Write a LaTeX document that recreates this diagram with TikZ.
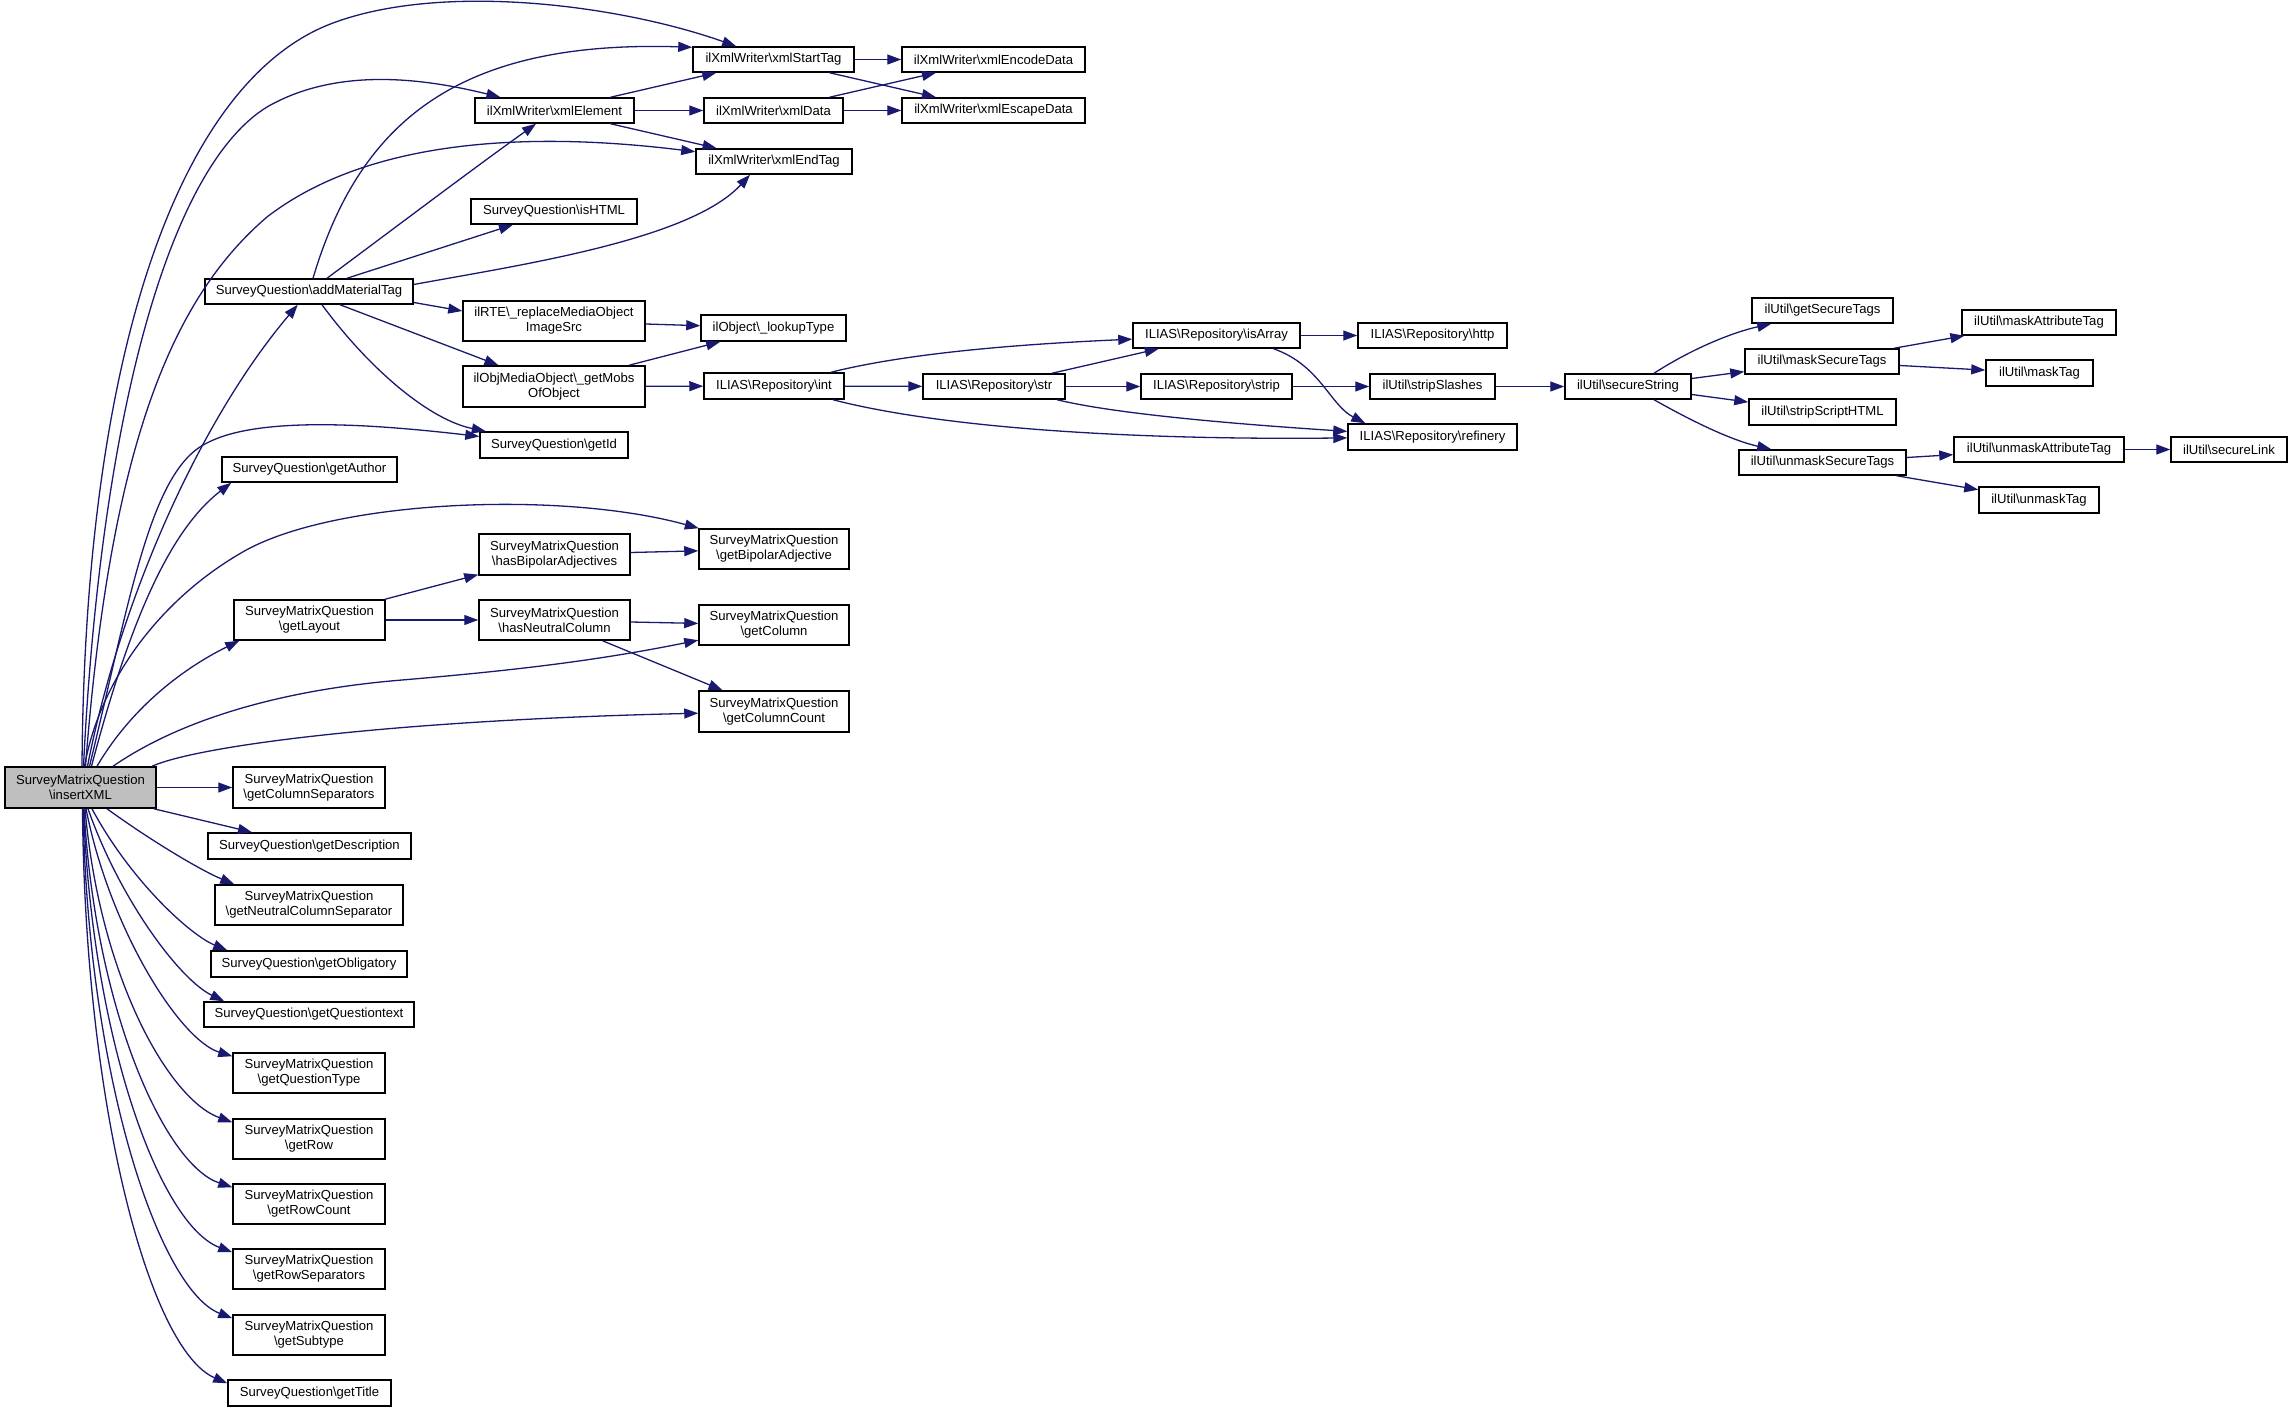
\documentclass[tikz,border=0pt]{standalone}
\usepackage{fontspec}
\setmainfont{Liberation Sans}
\usetikzlibrary{arrows.meta}
\definecolor{edgecol}{HTML}{191970}
\definecolor{insfill}{HTML}{BFBFBF}
\def\BSL{\textbackslash}
\begin{document}
\begin{tikzpicture}[x=1pt,y=-1pt,
  box/.style={draw=black, line width=1.5pt, fill=white, inner sep=0pt, align=center,
    font=\fontsize{13.1}{15}\selectfont, minimum height=25},
  conn/.style={draw=edgecol, line width=1.3pt, -{Triangle[length=14pt,width=10pt]}}]
\fill[white] (0,0) rectangle (2292,1412);
\useasboundingbox (0,0) rectangle (2292,1412);

% nodes
\node[box,minimum width=151,minimum height=41,fill=insfill] (ins) at (80.5,787.5) {SurveyMatrixQuestion\\\BSL insertXML};
\node[box,minimum width=161] (xst) at (773.5,59.5) {ilXmlWriter\BSL xmlStartTag};
\node[box,minimum width=159] (xel) at (554.5,110.5) {ilXmlWriter\BSL xmlElement};
\node[box,minimum width=139] (xda) at (773.5,110.5) {ilXmlWriter\BSL xmlData};
\node[box,minimum width=156] (xen) at (774,161.5) {ilXmlWriter\BSL xmlEndTag};
\node[box,minimum width=183] (xenc) at (993.5,59.5) {ilXmlWriter\BSL xmlEncodeData};
\node[box,minimum width=183] (xesc) at (993.5,110.5) {ilXmlWriter\BSL xmlEscapeData};
\node[box,minimum width=166] (ishtml) at (554,211.5) {SurveyQuestion\BSL isHTML};
\node[box,minimum width=208] (amt) at (309,291.5) {SurveyQuestion\BSL addMaterialTag};
\node[box,minimum width=182,minimum height=40] (rte) at (554,321) {ilRTE\BSL\_replaceMediaObject\\ImageSrc};
\node[box,minimum width=145,minimum height=26] (lut) at (773.5,328) {ilObject\BSL\_lookupType};
\node[box,minimum width=182,minimum height=41] (mobs) at (554,386.5) {ilObjMediaObject\BSL\_getMobs\\OfObject};
\node[box,minimum width=140,minimum height=26] (int) at (774,386) {ILIAS\BSL Repository\BSL int};
\node[box,minimum width=148,minimum height=26] (gid) at (554,445) {SurveyQuestion\BSL getId};
\node[box,minimum width=175] (gau) at (309.5,469.5) {SurveyQuestion\BSL getAuthor};
\node[box,minimum width=150,minimum height=40] (gba) at (774,549) {SurveyMatrixQuestion\\\BSL getBipolarAdjective};
\node[box,minimum width=151,minimum height=41] (hba) at (554.5,554.5) {SurveyMatrixQuestion\\\BSL hasBipolarAdjectives};
\node[box,minimum width=151,minimum height=40] (gla) at (309.5,620) {SurveyMatrixQuestion\\\BSL getLayout};
\node[box,minimum width=151,minimum height=40] (hnc) at (554.5,620) {SurveyMatrixQuestion\\\BSL hasNeutralColumn};
\node[box,minimum width=150,minimum height=40] (gco) at (774,625) {SurveyMatrixQuestion\\\BSL getColumn};
\node[box,minimum width=150,minimum height=41] (gcc) at (774,711.5) {SurveyMatrixQuestion\\\BSL getColumnCount};
\node[box,minimum width=152,minimum height=41] (gcs) at (309,787.5) {SurveyMatrixQuestion\\\BSL getColumnSeparators};
\node[box,minimum width=203,minimum height=26] (gde) at (309.5,846) {SurveyQuestion\BSL getDescription};
\node[box,minimum width=188,minimum height=40] (gnc) at (309,905) {SurveyMatrixQuestion\\\BSL getNeutralColumnSeparator};
\node[box,minimum width=196,minimum height=26] (gob) at (309,964) {SurveyQuestion\BSL getObligatory};
\node[box,minimum width=210] (gqt) at (309,1014.5) {SurveyQuestion\BSL getQuestiontext};
\node[box,minimum width=152,minimum height=40] (gqy) at (309,1073) {SurveyMatrixQuestion\\\BSL getQuestionType};
\node[box,minimum width=152,minimum height=40] (grw) at (309,1139) {SurveyMatrixQuestion\\\BSL getRow};
\node[box,minimum width=152,minimum height=40] (grc) at (309,1204) {SurveyMatrixQuestion\\\BSL getRowCount};
\node[box,minimum width=152,minimum height=40] (grs) at (309,1269) {SurveyMatrixQuestion\\\BSL getRowSeparators};
\node[box,minimum width=152,minimum height=40] (gst) at (309,1335) {SurveyMatrixQuestion\\\BSL getSubtype};
\node[box,minimum width=163,minimum height=26] (gti) at (309.5,1393) {SurveyQuestion\BSL getTitle};
\node[box,minimum width=167] (isa) at (1216.5,335.5) {ILIAS\BSL Repository\BSL isArray};
\node[box,minimum width=149] (htp) at (1432.5,335.5) {ILIAS\BSL Repository\BSL http};
\node[box,minimum width=142] (str) at (994,386.5) {ILIAS\BSL Repository\BSL str};
\node[box,minimum width=151] (stp) at (1216.5,386.5) {ILIAS\BSL Repository\BSL strip};
\node[box,minimum width=125] (ssl) at (1432.5,386.5) {ilUtil\BSL stripSlashes};
\node[box,minimum width=169,minimum height=26] (ref) at (1432.5,437) {ILIAS\BSL Repository\BSL refinery};
\node[box,minimum width=126] (sst) at (1628,386.5) {ilUtil\BSL secureString};
\node[box,minimum width=141] (gstg) at (1822.5,310.5) {ilUtil\BSL getSecureTags};
\node[box,minimum width=154] (mst) at (1822,361.5) {ilUtil\BSL maskSecureTags};
\node[box,minimum width=147,minimum height=26] (ssh) at (1822.5,412) {ilUtil\BSL stripScriptHTML};
\node[box,minimum width=167] (ust) at (1822.5,462.5) {ilUtil\BSL unmaskSecureTags};
\node[box,minimum width=154] (mat) at (2039,322.5) {ilUtil\BSL maskAttributeTag};
\node[box,minimum width=107,minimum height=26] (mtg) at (2039.5,373) {ilUtil\BSL maskTag};
\node[box,minimum width=170] (uat) at (2039,449.5) {ilUtil\BSL unmaskAttributeTag};
\node[box,minimum width=116] (slk) at (2229,449.5) {ilUtil\BSL secureLink};
\node[box,minimum width=120,minimum height=26] (utg) at (2039,500) {ilUtil\BSL unmaskTag};

% edges from insertXML (upwards)
\draw[conn] ([xshift=1.5]ins.north) .. controls (85,350) and (180,80) .. (333,23) .. controls (443,-18) and (620,5) .. (xst);
\draw[conn] ([xshift=3]ins.north) .. controls (100,430) and (165,170) .. (267,107) .. controls (340,65) and (430,80) .. (xel);
\draw[conn] ([xshift=5]ins.north) .. controls (110,450) and (170,300) .. (267,217) .. controls (380,130) and (560,135) .. (xen);
\draw[conn] ([xshift=7]ins.north) .. controls (120,600) and (200,420) .. (amt);
\draw[conn] ([xshift=9]ins.north) .. controls (130,600) and (150,470) .. (207,443) .. controls (260,415) and (380,425) .. (gid);
\draw[conn] ([xshift=11]ins.north) .. controls (130,620) and (170,530) .. ([xshift=10]gau.south west);
\draw[conn] ([xshift=4]ins.north) .. controls (100,680) and (160,600) .. (241,553) .. controls (330,500) and (560,490) .. (gba);
\draw[conn] ([xshift=16.5]ins.north) .. controls (130,710) and (180,670) .. ([xshift=6]gla.south west);
\draw[conn] ([xshift=32.5]ins.north) .. controls (180,720) and (280,690) .. (402,680) .. controls (520,670) and (600,660) .. (gco);
\draw[conn] ([xshift=71.5]ins.north) .. controls (200,745) and (400,720) .. (gcc);
% edges from insertXML (right / downwards)
\draw[conn] (ins) -- (gcs);
\draw[conn] ([xshift=-3]ins.south east) -- (gde);
\draw[conn] ([xshift=26.5]ins.south) .. controls (150,840) and (200,870) .. ([xshift=20]gnc.north west);
\draw[conn] ([xshift=11.5]ins.south) .. controls (130,880) and (190,935) .. ([xshift=17]gob.north west);
\draw[conn] ([xshift=7.5]ins.south) .. controls (120,900) and (180,980) .. ([xshift=21]gqt.north west);
\draw[conn] ([xshift=5.5]ins.south) .. controls (110,930) and (180,1040) .. ([yshift=-4]gqy.north west);
\draw[conn] ([xshift=4.5]ins.south) .. controls (100,980) and (170,1100) .. ([yshift=-4]grw.north west);
\draw[conn] ([xshift=3.5]ins.south) .. controls (95,1010) and (165,1165) .. ([yshift=-4]grc.north west);
\draw[conn] ([xshift=3]ins.south) .. controls (92,1040) and (160,1225) .. ([yshift=-4]grs.north west);
\draw[conn] ([xshift=2.5]ins.south) .. controls (88,1080) and (160,1290) .. ([yshift=-4]gst.north west);
\draw[conn] ([xshift=2]ins.south) .. controls (85,1110) and (150,1350) .. ([yshift=-4]gti.north west);

% addMaterialTag
\draw[conn] ([xshift=4]amt.north) .. controls (360,120) and (460,40) .. ([yshift=-1]xst.north west);
\draw[conn] ([xshift=18]amt.north) .. controls (400,224) and (470,171) .. (xel);
\draw[conn] ([xshift=38]amt.north) -- (ishtml);
\draw[conn] ([yshift=7]amt.east) .. controls (520,265) and (690,240) .. ([xshift=-24]xen.south);
\draw[conn] ([yshift=-11]amt.east) -- ([yshift=10]rte.west);
\draw[conn] ([xshift=31]amt.south) -- (mobs);
\draw[conn] ([xshift=13]amt.south) .. controls (370,370) and (430,420) .. (gid);

% xml writer
\draw[conn] ([xshift=56]xel.north) -- (xst);
\draw[conn] (xel) -- (xda);
\draw[conn] ([xshift=56]xel.south) -- (xen);
\draw[conn] (xst) -- (xenc);
\draw[conn] ([xshift=56]xst.south) -- (xesc);
\draw[conn] ([xshift=56]xda.north) -- (xenc);
\draw[conn] (xda) -- (xesc);

% media objects / repository
\draw[conn] ([yshift=-3]rte.east) -- (lut);
\draw[conn] ([xshift=75]mobs.north) -- (lut);
\draw[conn] (mobs) -- (int);
\draw[conn] ([xshift=57]int.north) .. controls (900,355) and (1000,345) .. (isa);
\draw[conn] (int) -- (str);
\draw[conn] ([xshift=59]int.south) .. controls (950,430) and (1150,440) .. (ref);
\draw[conn] ([xshift=58]str.north) -- (isa);
\draw[conn] (str) -- (stp);
\draw[conn] ([xshift=63]str.south) .. controls (1120,415) and (1250,425) .. (ref);
\draw[conn] (isa) -- (htp);
\draw[conn] ([xshift=57]isa.south) .. controls (1320,365) and (1330,405) .. ([xshift=18]ref.north west);
\draw[conn] (stp) -- (ssl);
\draw[conn] (ssl) -- (sst);

% ilUtil
\draw[conn] ([xshift=26]sst.north) .. controls (1690,350) and (1730,333) .. ([xshift=20]gstg.south west);
\draw[conn] ([yshift=8]sst.east) -- (mst);
\draw[conn] ([yshift=-8]sst.east) -- (ssh);
\draw[conn] ([xshift=26]sst.south) .. controls (1690,420) and (1730,440) .. ([xshift=33]ust.north west);
\draw[conn] ([xshift=72]mst.north) -- (mat);
\draw[conn] ([yshift=-4]mst.east) -- (mtg);
\draw[conn] ([yshift=5]ust.east) -- (uat);
\draw[conn] ([xshift=74]ust.south) -- (utg);
\draw[conn] (uat) -- (slk);

% layout
\draw[conn] ([xshift=75.5]gla.north) -- (hba);
\draw[conn] (gla) -- (hnc);
\draw[conn] ([yshift=2]hba.east) -- (gba);
\draw[conn] ([yshift=-2]hnc.east) -- (gco);
\draw[conn] ([xshift=48]hnc.south) -- (gcc);
\end{tikzpicture}
\end{document}
